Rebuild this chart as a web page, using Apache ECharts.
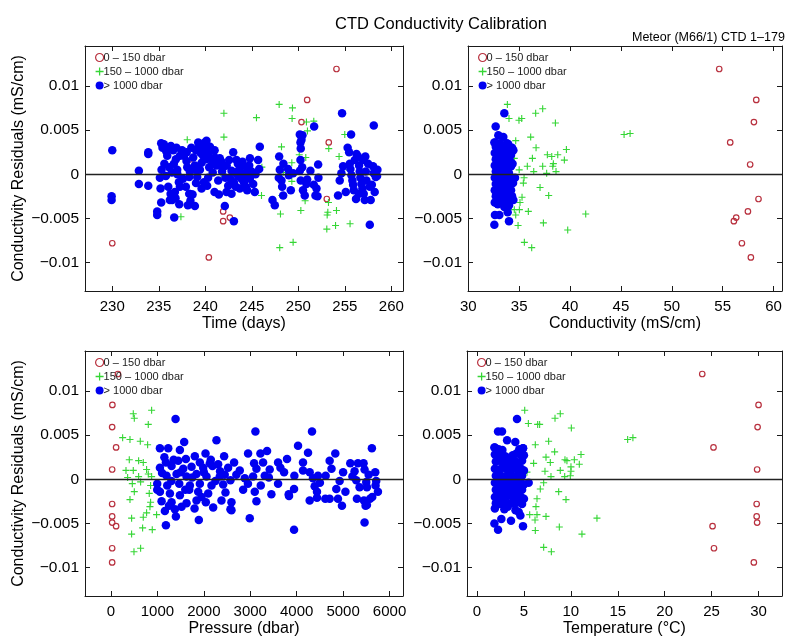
<!DOCTYPE html>
<html>
<head>
<meta charset="utf-8">
<script src="https://cdn.jsdelivr.net/npm/echarts@6/dist/echarts.min.js"></script>
<style>
  html, body { margin: 0; padding: 0; background: #fff; }
  #chart { width: 785px; height: 639px; }
</style>
</head>
<body>
<div id="chart"></div>
<script>
// ---- Shallow casts (0 - 150 dbar): one entry per sample ----
const redResidual = [0.0119, 0.0084, 0.0059, 0.0036, 0.0011, -0.0028, -0.0042, -0.0049, -0.0053, -0.0078, -0.0094];
const redDay      = [254.1, 250.95, 250.34, 253.27, 238.5, 253.06, 241.92, 242.64, 241.92, 230.0, 240.38];
const redCond     = [54.66, 58.3, 58.07, 55.74, 57.7, 58.52, 57.48, 56.33, 56.1, 56.89, 57.77];
const redPres     = [150, 30, 25, 110, 25, 25, 25, 25, 110, 25, 25];
const redTemp     = [24.0, 30.0, 29.9, 25.2, 29.85, 29.8, 29.8, 29.85, 25.1, 25.25, 29.5];

// ---- Intermediate depths (150 - 1000 dbar): [x, residual] ----
const greenDay = [
  [247.94,0.0079],[249.37,0.0075],[242.0,0.0069],[245.5,0.0064],[249.33,0.0063],[250.87,0.0059],[251.66,0.0060],
  [250.98,0.0049],[254.99,0.0045],[242.0,0.0042],[238.06,0.0039],[248.19,0.0031],[253.27,0.0029],[250.1,0.0022],
  [250.8,0.0019],[254.38,0.0020],[246.08,0.0008],[248.44,0.0009],[249.3,0.0013],[248.37,0.0002],[242.0,-0.0003],
  [255.46,0.0005],[249.3,-0.0008],[246.04,-0.0024],[248.22,-0.0024],[250.73,-0.0030],[253.24,-0.0032],[250.27,-0.0041],
  [253.17,-0.0043],[254.1,-0.0041],[248.08,-0.0045],[253.1,-0.0046],[237.38,-0.0048],[255.56,-0.0056],[254.0,-0.0058],
  [253.06,-0.0062],[248.0,-0.0083],[249.44,-0.0077]
];
const greenCond = [
  [33.84,0.0079],[37.31,0.0074],[36.62,0.0069],[34.0,0.0063],[34.98,0.0061],[35.25,0.0063],[38.56,0.0058],
  [45.31,0.0045],[45.9,0.0046],[36.13,0.0042],[34.66,0.0038],[36.66,0.0030],[39.64,0.0028],[37.77,0.0022],
  [38.79,0.0022],[38.2,0.0020],[39.44,0.0016],[36.3,0.0018],[34.52,0.0018],[38.36,0.0012],[35.8,0.0009],
  [37.31,0.0009],[38.3,0.0009],[35.0,0.0005],[36.43,0.0003],[37.7,0.0001],[38.62,0.0003],[35.48,-0.0004],
  [35.41,-0.0010],[37.05,-0.0015],[37.9,-0.0024],[35.28,-0.0026],[35.08,-0.0032],[34.52,-0.0040],[35.02,-0.0040],
  [35.9,-0.0042],[34.66,-0.0046],[41.54,-0.0045],[34.89,-0.0058],[37.38,-0.0055],[39.77,-0.0063],[35.51,-0.0077],
  [36.23,-0.0083]
];
const greenPres = [
  [875,0.0078],[480,0.0074],[803,0.0062],[502,0.0069],[251,0.0047],[409,0.0045],[631,0.0043],[789,0.0039],
  [394,0.0022],[595,0.0021],[695,0.0019],[323,0.0010],[480,0.0010],[767,0.0011],[803,0.0006],[358,0.0002],
  [595,0.0003],[875,0.0003],[459,-0.0005],[638,-0.0003],[853,-0.0007],[502,-0.0014],[824,-0.0016],[409,-0.0023],
  [853,-0.0026],[839,-0.0031],[767,-0.0038],[982,-0.0040],[695,-0.0043],[444,-0.0044],[681,-0.0055],[889,-0.0057],
  [444,-0.0062],[638,-0.0078],[495,-0.0082]
];
const greenTemp = [
  [5.08,0.0078],[8.87,0.0074],[8.31,0.0069],[5.47,0.0063],[6.46,0.0062],[6.67,0.0062],[10.05,0.0058],
  [16.05,0.0045],[16.61,0.0047],[7.63,0.0043],[6.21,0.0039],[8.27,0.0031],[11.08,0.0028],[9.37,0.0022],
  [10.37,0.0022],[9.58,0.0021],[10.9,0.0017],[7.35,0.0025],[6.03,0.0018],[7.81,0.0019],[10.01,0.0014],
  [7.24,0.0009],[8.87,0.0010],[10.01,0.0009],[5.32,0.0008],[7.88,0.0003],[9.34,0.0003],[9.94,0.0004],
  [7.1,-0.0004],[6.74,-0.0011],[8.7,-0.0014],[6.39,-0.0022],[9.48,-0.0023],[6.28,-0.0031],[5.61,-0.0040],
  [6.39,-0.0040],[7.35,-0.0042],[6.18,-0.0046],[12.78,-0.0044],[6.21,-0.0058],[8.77,-0.0054],[11.18,-0.0062],
  [7.1,-0.0077],[7.92,-0.0082]
];

// ---- Deep samples (> 1000 dbar): [x, residual] ----
const blueDay = [
  [230.0,0.0027],[229.93,-0.0025],[229.93,-0.0029],[232.86,0.0004],[232.86,-0.0011],[233.87,0.0025],[233.87,0.0023],
  [233.87,-0.0013],[234.83,-0.0042],[234.83,-0.0046],[235.26,0.0035],[235.55,0.0034],[235.12,-0.0004],[235.19,-0.0016],
  [235.26,-0.0032],[236.02,0.0028],[235.91,0.0021],[236.12,0.0008],[236.02,-0.0014],[236.27,-0.0022],[236.19,-0.0029],
  [235.76,-0.0002],[236.55,0.0027],[236.84,0.0017],[236.62,0.0012],[237.27,0.0021],[236.98,0.0005],[237.16,-0.0009],
  [237.27,-0.0014],[236.73,-0.0020],[237.2,-0.0034],[236.66,-0.0049],[236.44,-0.0029],[237.7,0.0021],[237.98,0.0015],
  [238.06,0.0008],[238.34,0.0003],[238.27,-0.0003],[237.91,-0.0014],[238.27,-0.0022],[238.63,-0.0023],[238.7,0.0019],
  [238.88,0.0010],[238.88,0.0005],[238.13,-0.0035],[238.88,-0.0036],[238.52,-0.0023],[239.24,0.0036],[239.34,0.0031],
  [239.49,0.0024],[239.77,0.0021],[239.95,0.0036],[240.03,0.0028],[240.13,0.0038],[240.06,0.0017],[239.6,0.0013],
  [239.13,-0.0003],[239.85,-0.0009],[239.42,0.0005],[240.31,0.0023],[240.56,0.0018],[240.74,0.0012],[240.42,0.0008],
  [241.03,0.0019],[241.21,0.0010],[241.39,-0.0007],[240.99,-0.0020],[241.46,-0.0023],[241.56,0.0018],[241.74,0.0014],
  [241.92,0.0008],[242.17,-0.0004],[242.46,-0.0013],[242.28,-0.0020],[242.1,-0.0036],[242.57,0.0016],[242.82,0.0004],
  [243.0,0.0025],[243.07,-0.0009],[243.07,-0.0053],[242.82,-0.0022],[243.35,0.0016],[243.64,0.0005],[243.78,0.0010],
  [244.0,0.0014],[243.53,-0.0002],[243.89,-0.0005],[244.25,0.0001],[244.14,-0.0009],[244.43,0.0008],[243.28,-0.0014],
  [243.71,-0.0016],[244.36,-0.0014],[244.72,0.0010],[244.97,0.0003],[244.79,-0.0005],[245.15,-0.0011],[245.32,-0.0020],
  [245.68,0.0016],[245.86,0.0031],[245.79,0.0006],[247.22,-0.0029],[247.47,-0.0035],[247.94,0.0020],[248.01,0.0005],
  [248.19,-0.0007],[248.26,-0.0014],[248.37,-0.0024],[248.9,0.0006],[248.98,-0.0001],[249.19,-0.0018],[249.44,0.0001],
  [250.16,0.0045],[250.23,0.0036],[250.26,0.0029],[250.23,0.0016],[250.41,0.0008],[250.16,0.0004],[250.26,-0.0007],
  [250.34,0.0039],[250.44,0.0044],[250.69,-0.0024],[250.87,-0.0011],[250.95,-0.0006],[251.7,0.0054],[251.66,-0.0012],
  [251.95,-0.0016],[251.84,-0.0024],[252.06,-0.0025],[252.13,0.0011],[252.16,-0.0004],[254.27,-0.0024],[254.45,-0.0007],
  [254.63,0.0001],[254.81,0.0009],[254.7,0.0069],[255.46,0.0025],[255.53,0.0012],[255.6,0.0006],[255.71,-0.0001],
  [255.81,-0.0007],[255.89,-0.0012],[255.96,-0.0018],[255.67,0.0045],[256.25,0.0023],[256.07,0.0016],[256.42,0.0020],
  [256.53,0.0010],[256.6,0.0003],[256.67,-0.0004],[256.78,-0.0011],[256.89,-0.0016],[256.96,0.0016],[257.03,-0.0022],
  [257.14,-0.0029],[257.25,0.0003],[257.32,-0.0007],[257.5,0.0012],[257.68,-0.0014],[257.78,-0.0029],[258.03,0.0009],
  [258.11,0.0001],[258.21,-0.0020],[258.32,-0.0003],[258.46,-0.0002],[257.68,-0.0057],[258.11,0.0055],
  [235.4,0.0030],[235.8,0.0026],[236.3,0.0032],[236.9,0.0030],[237.5,0.0027],[238.0,0.0025],[238.5,0.0030],
  [239.0,0.0027],[239.7,0.0030],[240.5,0.0031],[241.0,0.0027],[241.3,0.0015],[241.8,0.0003],[242.3,0.0010],
  [242.7,-0.0005],[243.2,0.0002],[243.5,0.0012],[244.0,-0.0003],[244.5,-0.0018],[244.8,0.0018],[245.4,0.0000],
  [237.6,-0.0005],[237.0,0.0000],[236.4,0.0002],[235.6,0.0012],[235.3,0.0005],[239.0,-0.0010],[239.6,-0.0016],
  [240.3,-0.0004],[240.8,0.0002],[236.8,-0.0027],[238.4,-0.0030],[240.2,-0.0013],[247.9,-0.0004],[248.4,0.0012],
  [256.2,-0.0028],[256.5,-0.0022],[257.9,-0.0012],[255.3,0.0030],[257.2,0.0020],[258.5,0.0005],[255.1,-0.0020],
  [250.5,-0.0018],[251.3,0.0004]
];
const blueCond = [
  [33.54,0.0069],[32.69,0.0054],[32.95,0.0044],[33.44,0.0042],[32.56,0.0036],[33.93,0.0034],[34.1,0.0029],
  [34.43,0.0027],[34.59,-0.0004],[33.54,-0.0037],[33.93,-0.0036],[33.87,-0.0043],[32.62,-0.0046],[33.05,-0.0046],
  [32.56,-0.0057],[34.0,-0.0053],[32.85,-0.0033],[34.43,-0.0029],
  [32.7,0.0031],[33.0,0.0030],[33.3,0.0028],[33.7,0.0031],[34.0,0.0026],
  [32.6,0.0024],[32.9,0.0022],[33.2,0.0023],[33.5,0.0021],[33.9,0.0020],[34.2,0.0022],
  [32.7,0.0017],[33.0,0.0015],[33.4,0.0016],[33.7,0.0014],[34.1,0.0015],
  [32.6,0.0010],[32.9,0.0008],[33.2,0.0009],[33.6,0.0010],[33.9,0.0007],[34.2,0.0009],
  [32.7,0.0003],[33.0,0.0001],[33.3,0.0004],[33.6,0.0002],[34.0,0.0001],
  [32.6,-0.0004],[32.9,-0.0006],[33.2,-0.0003],[33.5,-0.0005],[33.8,-0.0007],[34.1,-0.0004],
  [32.7,-0.0011],[33.0,-0.0013],[33.3,-0.0010],[33.7,-0.0012],[34.0,-0.0014],
  [32.6,-0.0018],[32.9,-0.0020],[33.2,-0.0017],[33.5,-0.0019],[33.9,-0.0021],[34.2,-0.0018],
  [32.7,-0.0025],[33.0,-0.0027],[33.4,-0.0024],[33.7,-0.0026],[34.1,-0.0028],
  [32.6,-0.0032],[32.9,-0.0034],[33.3,-0.0031],[33.6,-0.0033],[34.0,-0.0035],
  [32.65,0.0036],[33.1,0.0035],[33.8,0.0035],[34.3,0.0030],[34.4,-0.0010],[34.35,0.0012],[34.3,-0.0025]
];
const bluePres = [
  [1391,0.0068],[3111,0.0054],[4330,0.0054],[2272,0.0044],[1577,0.0042],[4029,0.0038],[5620,0.0035],[1054,0.0035],
  [1233,0.0035],[1484,0.0033],[1806,0.0026],[2036,0.0029],[2437,0.0026],[2953,0.0029],[3219,0.0029],[3362,0.0032],
  [4244,0.0030],[4832,0.0029],[1183,0.0019],[1448,0.0021],[1613,0.0023],[1914,0.0019],[2129,0.0018],[2308,0.0017],
  [2652,0.0019],[3082,0.0018],[3276,0.0019],[3599,0.0019],[3792,0.0023],[4136,0.0019],[4710,0.0021],[5154,0.0018],
  [5319,0.0018],[5441,0.0018],[1054,0.0013],[1305,0.0015],[1556,0.0012],[1735,0.0014],[1986,0.0013],[2186,0.0015],
  [2523,0.0013],[2774,0.0010],[3133,0.0012],[3419,0.0011],[4136,0.0010],[4280,0.0008],[4459,0.0004],[4624,0.0004],
  [5000,0.0008],[5247,0.0009],[5462,0.0011],[5692,0.0008],[1197,0.0004],[1412,0.0006],[1627,0.0003],[1842,0.0006],
  [2057,0.0003],[2344,0.0003],[2573,-0.0001],[2882,0.0001],[3061,0.0003],[3312,0.0004],[3728,0.0008],[4351,0.0001],
  [4925,-0.0002],[5283,-0.0001],[5498,-0.0003],[5713,-0.0002],[996,-0.0005],[1211,-0.0007],[1470,-0.0005],[1699,-0.0007],
  [1914,-0.0005],[2165,-0.0007],[2416,-0.0006],[2846,-0.0012],[3226,-0.0007],[3599,-0.0005],[3943,-0.0011],[4387,-0.0008],
  [4437,-0.0014],[4853,-0.0011],[5355,-0.0009],[5513,-0.0009],[5699,-0.0007],[1054,-0.0014],[1269,-0.0016],[1484,-0.0018],
  [1685,-0.0012],[1878,-0.0014],[2093,-0.0016],[2466,-0.0015],[3097,-0.0014],[3455,-0.0017],[3828,-0.0017],[4437,-0.0021],
  [4616,-0.0022],[4710,-0.0022],[4889,-0.0022],[5297,-0.0022],[5448,-0.0024],[5627,-0.0020],[1090,-0.0025],[1305,-0.0026],
  [1627,-0.0027],[1842,-0.0024],[2043,-0.0026],[2380,-0.0024],[2595,-0.0026],[3133,-0.0025],[3835,-0.0019],[4280,-0.0024],
  [5513,-0.0029],[1161,-0.0036],[1376,-0.0034],[1520,-0.0031],[2201,-0.0032],[2573,-0.0034],[2595,-0.0035],[4975,-0.0030],
  [5484,-0.0030],[1398,-0.0042],[1892,-0.0046],[2989,-0.0044],[1183,-0.0052],[3943,-0.0057],[5462,-0.0049],[996,-0.0012],
  [1150,0.0025],[1350,0.0022],[1500,0.0008],[1750,0.0002],[2000,0.0008],[2250,-0.0002],[2450,0.0005],[1300,-0.0002],
  [1600,-0.0012],[1950,-0.0020],[2150,0.0022],[2350,0.0009],[1100,0.0007],[1250,-0.0030],[1800,-0.0033],[2700,0.0005],
  [2950,-0.0005],[3400,0.0002],[3650,0.0013],[3950,0.0004],[4500,-0.0004],[4750,0.0012],[5050,-0.0014],[5200,0.0003],
  [5550,0.0005],[5750,-0.0014],[5580,-0.0022]
];
const blueTemp = [
  [4.26,0.0068],[2.24,0.0054],[2.66,0.0054],[3.2,0.0044],[4.08,0.0042],[1.85,0.0036],[4.9,0.0035],[5.5,-0.0004],
  [1.85,-0.0050],[2.24,-0.0057],[2.59,-0.0045],[3.62,-0.0047],[4.9,-0.0053],[4.44,-0.0037],[4.62,-0.0041],[2.91,-0.0034],
  [3.27,-0.0031],[4.1,-0.0035],[1.9,-0.0033],
  [1.9,0.0036],[2.3,0.0034],[2.7,0.0033],[4.5,0.0034],[4.9,0.0035],
  [1.9,0.0028],[2.2,0.0027],[2.6,0.0029],[3.0,0.0026],[3.4,0.0024],[3.8,0.0027],[4.2,0.0029],[4.6,0.0028],[5.0,0.0027],
  [2.0,0.0020],[2.4,0.0021],[2.8,0.0019],[3.2,0.0020],[3.6,0.0018],[4.0,0.0021],[4.4,0.0019],[4.8,0.0021],
  [1.9,0.0012],[2.3,0.0011],[2.7,0.0013],[3.1,0.0012],[3.5,0.0010],[3.9,0.0013],[4.3,0.0011],[4.7,0.0012],[5.0,0.0010],
  [2.0,0.0004],[2.4,0.0005],[2.8,0.0003],[3.2,0.0004],[3.6,0.0006],[4.0,0.0003],[4.4,0.0005],[4.8,0.0004],
  [1.9,-0.0004],[2.3,-0.0003],[2.7,-0.0005],[3.1,-0.0004],[3.5,-0.0002],[3.9,-0.0005],[4.3,-0.0003],[4.7,-0.0004],[5.0,-0.0006],
  [2.0,-0.0012],[2.4,-0.0011],[2.8,-0.0013],[3.2,-0.0012],[3.6,-0.0010],[4.0,-0.0013],[4.4,-0.0011],[4.8,-0.0012],
  [1.9,-0.0020],[2.3,-0.0019],[2.7,-0.0021],[3.1,-0.0020],[3.5,-0.0018],[3.9,-0.0021],[4.3,-0.0019],[4.7,-0.0020],[5.0,-0.0022],
  [2.0,-0.0027],[2.4,-0.0028],[2.8,-0.0026],[3.2,-0.0029],[3.6,-0.0027],[4.0,-0.0028],[4.4,-0.0026],[4.8,-0.0028]
];

// ---- Axis ticks and labels ----
const residualTicks = [-0.01, -0.005, 0, 0.005, 0.01];
const dayTicks  = [230, 235, 240, 245, 250, 255, 260];
const condTicks = [30, 35, 40, 45, 50, 55, 60];
const presTicks = [0, 1000, 2000, 3000, 4000, 5000, 6000];
const tempTicks = [0, 5, 10, 15, 20, 25, 30];
const groupNames = ['0 \u2013 150 dbar', '150 \u2013 1000 dbar', '> 1000 dbar'];
const chartTitle = 'CTD Conductivity Calibration';
const chartSubtitle = 'Meteor (M66/1) CTD 1\u2013179';
const residualLabel = 'Conductivity Residuals (mS/cm)';

const FONT = '"Liberation Sans", Arial, Helvetica, sans-serif';
const INK = '#1a1a1a';
const RED = '#b8303e';
const GREEN = '#36d636';
const BLUE = '#0000f0';
const PLUS = 'path://M0,4.2H10V5.8H0Z M4.2,0H5.8V10H4.2Z';
const minusSign = v => String(v).replace('-', '\u2212');

const panels = [
  { grid: { left: 85, top: 46, width: 318, height: 245 }, xr: [227.07, 261.25], ticks: dayTicks,  name: 'Time (days)',
    red: redDay, green: greenDay, blue: blueDay, yName: true },
  { grid: { left: 468, top: 46, width: 314, height: 245 }, xr: [29.97, 60.83], ticks: condTicks, name: 'Conductivity (mS/cm)',
    red: redCond, green: greenCond, blue: blueCond, yName: false },
  { grid: { left: 85, top: 351, width: 318, height: 245 }, xr: [-560, 6290], ticks: presTicks, name: 'Pressure (dbar)',
    red: redPres, green: greenPres, blue: bluePres, yName: true },
  { grid: { left: 467, top: 351, width: 315, height: 245 }, xr: [-1.07, 32.5], ticks: tempTicks, name: 'Temperature (\u00b0C)',
    red: redTemp, green: greenTemp, blue: blueTemp, yName: false }
];
const yRange = [-0.0132, 0.0145];

const lineStyle = { color: INK, width: 1 };
const grids = [], xAxes = [], yAxes = [], series = [], legends = [];

panels.forEach((p, i) => {
  grids.push(Object.assign({ containLabel: false }, p.grid));
  // bottom (labelled) and top (frame) x axes
  xAxes.push({
    type: 'value', gridIndex: i, position: 'bottom', min: p.xr[0], max: p.xr[1],
    name: p.name, nameLocation: 'middle', nameGap: 25,
    nameTextStyle: { fontFamily: FONT, fontSize: 16, color: '#000' },
    axisLine: { show: true, onZero: false, lineStyle },
    axisTick: { show: true, inside: true, length: 5, customValues: p.ticks, lineStyle },
    axisLabel: { customValues: p.ticks, fontFamily: FONT, fontSize: 15, color: '#000', margin: 8, formatter: minusSign },
    splitLine: { show: false }
  });
  xAxes.push({
    type: 'value', gridIndex: i, position: 'top', min: p.xr[0], max: p.xr[1],
    axisLine: { show: true, onZero: false, lineStyle },
    axisTick: { show: true, inside: true, length: 5, customValues: p.ticks, lineStyle },
    axisLabel: { show: false }, splitLine: { show: false }
  });
  // left (labelled) and right (frame) y axes
  yAxes.push({
    type: 'value', gridIndex: i, position: 'left', min: yRange[0], max: yRange[1],
    name: p.yName ? residualLabel : '', nameLocation: 'middle', nameGap: 58,
    nameTextStyle: { fontFamily: FONT, fontSize: 16, color: '#000' },
    axisLine: { show: true, onZero: false, lineStyle },
    axisTick: { show: true, inside: true, length: 5, customValues: residualTicks, lineStyle },
    axisLabel: { customValues: residualTicks, fontFamily: FONT, fontSize: 15.5, color: '#000', margin: 6, formatter: minusSign },
    splitLine: { show: false }
  });
  yAxes.push({
    type: 'value', gridIndex: i, position: 'right', min: yRange[0], max: yRange[1],
    axisLine: { show: true, onZero: false, lineStyle },
    axisTick: { show: true, inside: true, length: 5, customValues: residualTicks, lineStyle },
    axisLabel: { show: false }, splitLine: { show: false }
  });

  const axisRef = { xAxisIndex: 2 * i, yAxisIndex: 2 * i };
  series.push(Object.assign({
    type: 'scatter', name: groupNames[0], symbol: 'circle', symbolSize: 5.5,
    itemStyle: { color: 'rgba(255,255,255,0)', borderColor: RED, borderWidth: 1.2, opacity: 1 },
    data: redResidual.map((r, k) => [p.red[k], r])
  }, axisRef));
  series.push(Object.assign({
    type: 'scatter', name: groupNames[1], symbol: PLUS, symbolSize: 7,
    itemStyle: { color: GREEN, opacity: 1 },
    data: p.green
  }, axisRef));
  series.push(Object.assign({
    type: 'scatter', name: groupNames[2], symbol: 'circle', symbolSize: 8.5,
    itemStyle: { color: BLUE, opacity: 1 },
    data: p.blue
  }, axisRef));
  // zero reference line drawn on top of the markers
  series.push(Object.assign({
    type: 'line', name: 'zero', data: [], z: 10, silent: true,
    markLine: { silent: true, symbol: 'none', animation: false, label: { show: false },
      lineStyle: { color: '#222', width: 1.3, type: 'solid' }, data: [{ yAxis: 0 }] }
  }, axisRef));

  legends.push({
    left: p.grid.left + 10, top: p.grid.top + 6, orient: 'vertical', itemGap: 3,
    itemWidth: 8, itemHeight: 8, padding: 0, selectedMode: false,
    textStyle: { fontFamily: FONT, fontSize: 11, color: '#222', padding: [0, 0, 0, -5] },
    data: [
      { name: groupNames[0], icon: 'circle', itemStyle: { color: 'rgba(255,255,255,0)', borderColor: RED, borderWidth: 1.2 } },
      { name: groupNames[1], icon: PLUS },
      { name: groupNames[2], icon: 'circle' }
    ]
  });
});

const chart = echarts.init(document.getElementById('chart'), null, { renderer: 'canvas' });
chart.setOption({
  backgroundColor: '#fff',
  animation: false,
  grid: grids, xAxis: xAxes, yAxis: yAxes, series, legend: legends,
  graphic: [
    { type: 'text', x: 441, y: 24, style: { text: chartTitle, textAlign: 'center', textVerticalAlign: 'middle',
      font: '16.5px ' + FONT, fill: '#000' } },
    { type: 'text', x: 632, y: 38, style: { text: chartSubtitle, textAlign: 'left', textVerticalAlign: 'middle',
      font: '12.5px ' + FONT, fill: '#000' } }
  ]
});
</script>
</body>
</html>
